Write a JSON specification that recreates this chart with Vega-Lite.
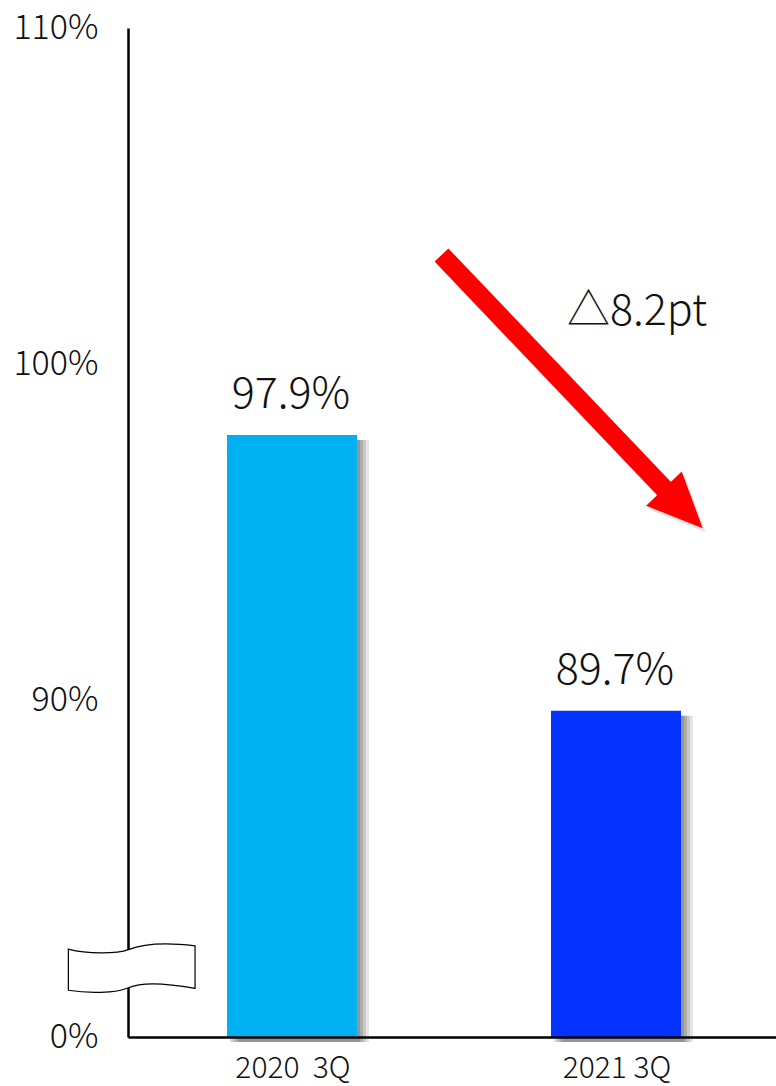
{
  "$schema": "https://vega.github.io/schema/vega-lite/v6.json",
  "width": 648,
  "height": 1009,
  "autosize": {"type": "none"},
  "padding": {"left": 128, "top": 28, "right": 0, "bottom": 49},
  "background": "white",
  "config": {
    "view": {"stroke": null},
    "font": "Noto Sans CJK JP"
  },
  "datasets": {
    "bars": [
      {"period": "2020\u00a0 3Q", "rate": 0.979},
      {"period": "2021 3Q", "rate": 0.897}
    ],
    "arrow": [
      {"pos": 0.4838, "level": 1.0325},
      {"pos": 0.8395, "level": 0.9606}
    ],
    "tip": [{"pos": 0.8869, "level": 0.9513}],
    "note": [{"pos": 0.7856, "level": 1.0117, "label": "△8.2pt"}],
    "brk": [{"pos": 0.0057, "level": 0.8205}]
  },
  "resolve": {
    "scale": {"x": "independent"},
    "axis": {"x": "independent", "y": "independent"}
  },
  "layer": [
    {
      "data": {"name": "bars"},
      "encoding": {
        "x": {
          "field": "period",
          "type": "nominal",
          "sort": null,
          "scale": {"paddingInner": 0, "paddingOuter": 0},
          "axis": {
            "title": null,
            "ticks": false,
            "labelAngle": 0,
            "labelFontSize": 30,
            "labelFontWeight": 300,
            "labelColor": "#111",
            "labelPadding": 16,
            "labelOffset": 3,
            "domainColor": "#000",
            "domainWidth": 2.5,
            "zindex": 1
          }
        },
        "y": {
          "field": "rate",
          "type": "quantitative",
          "scale": {"domain": [0, 0.8, 1.1], "range": [1009, 1009, 0], "nice": false, "zero": false},
          "axis": {
            "title": null,
            "values": [0, 0.9, 1.0, 1.1],
            "format": ".0%",
            "ticks": false,
            "grid": false,
            "labelFontSize": 34,
            "labelFontWeight": 300,
            "labelColor": "#111",
            "labelPadding": 30,
            "labelBaseline": "middle",
            "domainColor": "#000",
            "domainWidth": 2.5,
            "zindex": 0
          }
        }
      },
      "layer": [
        {"mark": {"type": "bar", "width": 130, "color": "#000", "opacity": 0.14, "xOffset": 5, "yOffset": 5}},
        {"mark": {"type": "bar", "width": 130, "color": "#000", "opacity": 0.14, "xOffset": 8, "yOffset": 5}},
        {"mark": {"type": "bar", "width": 130, "color": "#000", "opacity": 0.12, "xOffset": 11, "yOffset": 5}},
        {"mark": {"type": "bar", "width": 130, "color": "#000", "opacity": 0.1, "xOffset": 14, "yOffset": 5}},
        {
          "mark": {"type": "bar", "width": 130, "xOffset": 2, "opacity": 1},
          "encoding": {
            "color": {
              "field": "period",
              "type": "nominal",
              "sort": null,
              "scale": {"range": ["#00B0F0", "#0433FF"]},
              "legend": null
            }
          }
        },
        {
          "mark": {"type": "text", "baseline": "alphabetic", "align": "center", "dy": -27, "xOffset": 1, "fontSize": 43, "fontWeight": 300, "color": "#111"},
          "encoding": {"text": {"field": "rate", "format": ".1%"}}
        }
      ]
    },
    {
      "encoding": {
        "x": {"field": "pos", "type": "quantitative", "scale": {"domain": [0, 1], "nice": false, "zero": false}, "axis": null},
        "y": {
          "field": "level",
          "type": "quantitative",
          "scale": {"domain": [0, 0.8, 1.1], "range": [1009, 1009, 0], "nice": false, "zero": false},
          "axis": null
        }
      },
      "layer": [
        {
          "data": {"name": "arrow"},
          "mark": {"type": "line", "color": "#000", "opacity": 0.1, "strokeWidth": 19, "strokeCap": "butt", "xOffset": 3, "yOffset": 4}
        },
        {
          "data": {"name": "tip"},
          "mark": {"type": "point", "shape": "M 0 0 L -0.371 -1 L -1 -0.394 Z", "filled": true, "color": "#000", "opacity": 0.1, "size": 12814, "xOffset": 3, "yOffset": 4}
        },
        {
          "data": {"name": "arrow"},
          "mark": {"type": "line", "color": "#FF0000", "strokeWidth": 19, "strokeCap": "butt"}
        },
        {
          "data": {"name": "tip"},
          "mark": {"type": "point", "shape": "M 0 0 L -0.371 -1 L -1 -0.394 Z", "filled": true, "color": "#FF0000", "opacity": 1, "size": 12814}
        },
        {
          "data": {"name": "note"},
          "mark": {"type": "text", "baseline": "alphabetic", "align": "center", "fontSize": 43, "fontWeight": 300, "color": "#111"},
          "encoding": {"text": {"field": "label"}}
        },
        {
          "data": {"name": "brk"},
          "mark": {
            "type": "point",
            "shape": "M -1 -0.3 C -0.7 -0.22 -0.25 -0.22 -0.05 -0.29 C 0.15 -0.37 0.5 -0.41 1 -0.35 L 1 0.32 C 0.5 0.23 0.15 0.22 -0.05 0.31 C -0.25 0.4 -0.7 0.4 -1 0.35 Z",
            "filled": false,
            "fill": "#FFFFFF",
            "fillOpacity": 1,
            "stroke": "#000",
            "strokeWidth": 1.2,
            "opacity": 1,
            "size": 16053
          }
        }
      ]
    }
  ]
}
